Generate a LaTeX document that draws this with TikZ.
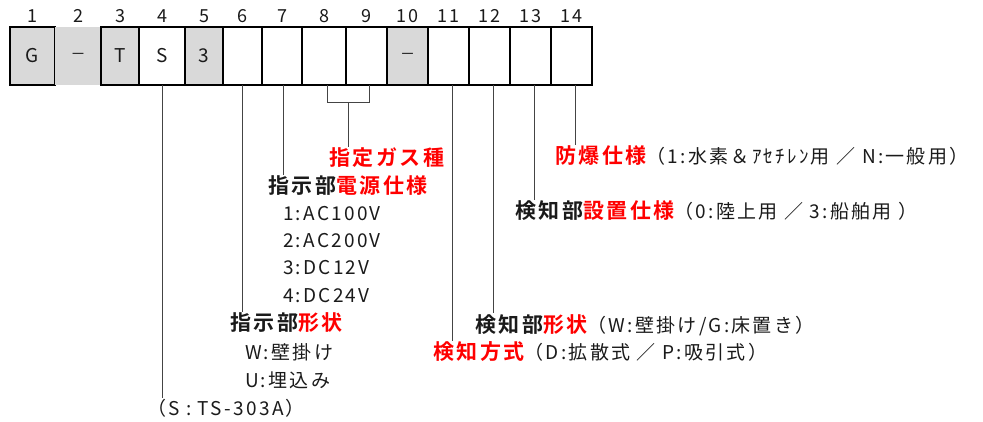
\documentclass[tikz,border=0pt]{standalone}
\usepackage{fontspec}
\setmainfont[LetterSpace=12,BoldFont={Noto Sans CJK JP Bold}]{Noto Sans CJK JP}
\usetikzlibrary{calc}
\definecolor{gbox}{HTML}{D9D9D9}
\definecolor{ink}{HTML}{1A1A1A}
\definecolor{lnk}{HTML}{444444}
\begin{document}
\begin{tikzpicture}[x=1pt,y=-1pt,
  cell/.style={draw=black,line width=2.6pt,inner sep=0pt,outer sep=0pt,minimum height=58pt,
    font=\fontsize{19}{19}\selectfont,text=ink},
  gray/.style={fill=gbox},
  num/.style={inner sep=0pt,font=\fontsize{18}{18}\selectfont,text=ink},
  lbl/.style={anchor=west,inner sep=1pt,outer sep=0pt,text=ink,font=\fontsize{19}{19}\selectfont},
  hd/.style={font=\bfseries\fontsize{21}{21}\selectfont},
  conn/.style={draw=lnk,line width=1pt}]
\useasboundingbox (0,0) rectangle (983,421);
% boxes
\node[cell,gray,minimum width=45pt] (b1) at (32.5,56) {G};
\fill[gbox] (55,27) rectangle (101,85);
\node[inner sep=0pt,font=\fontsize{15}{15}\selectfont,text=ink] (b2) at (78,56) {－};
\node[cell,gray,minimum width=38pt] (b3) at (120,56) {T};
\node[cell,minimum width=46pt] (b4) at (162,56) {S};
\node[cell,gray,minimum width=38pt] (b5) at (204,56) {3};
\node[cell,minimum width=39pt] (b6) at (242.5,56) {};
\node[cell,minimum width=40pt] (b7) at (282,56) {};
\node[cell,minimum width=44pt] (b8) at (324,56) {};
\node[cell,minimum width=41pt] (b9) at (366.5,56) {};
\node[cell,gray,minimum width=41pt,font=\fontsize{15}{15}\selectfont] (b10) at (407.5,56) {－};
\node[cell,minimum width=41pt] (b11) at (448.5,56) {};
\node[cell,minimum width=41pt] (b12) at (489.5,56) {};
\node[cell,minimum width=41pt] (b13) at (530.5,56) {};
\node[cell,minimum width=41pt] (b14) at (571.5,56) {};
% numbers
\foreach \i/\x in {1/32.5,2/78,3/120,4/162,5/204,6/242.5,7/282,8/324,9/366.5,10/407.5,11/448.5,12/489.5,13/530.5,14/571.5}
  \node[num] (n\i) at (\x,16) {\i};
% texts
\node[lbl,hd,text=red] (gas) at (328,158) {指定ガス種};
\node[lbl,hd] (pow) at (267,186) {指示部\textcolor{red}{電源仕様}};
\node[lbl] (p1) at (282,214) {1:AC100V};
\node[lbl] (p2) at (282,241) {2:AC200V};
\node[lbl] (p3) at (282,268) {3:DC12V};
\node[lbl] (p4) at (282,296) {4:DC24V};
\node[lbl,hd] (shp) at (229,323) {指示部\textcolor{red}{形状}};
\node[lbl] (sw) at (244,352) {W:壁掛け};
\node[lbl] (su) at (244,380) {U:埋込み};
\node[lbl] (ts) at (146,408) {（S : TS-303A）};
\node[lbl] (dsh) at (474,325) {{\bfseries\fontsize{21}{21}\selectfont 検知部\textcolor{red}{形状}}（W:壁掛け/G:床置き）};
\node[lbl] (met) at (432,352) {{\bfseries\fontsize{21}{21}\selectfont\color{red}検知方式}（D:拡散式 ／ P:吸引式）};
\node[lbl] (exp) at (554,156) {{\bfseries\fontsize{21}{21}\selectfont\color{red}防爆仕様}（1:水素＆ｱｾﾁﾚﾝ用 ／ N:一般用）};
\node[lbl] (ins) at (514,211) {{\bfseries\fontsize{21}{21}\selectfont 検知部\textcolor{red}{設置仕様}}（0:陸上用 ／ 3:船舶用 ）};
% connectors
\draw[conn] (b4.south) -- (b4.south |- ts.north);
\draw[conn] (b6.south) -- (b6.south |- shp.north);
\draw[conn] ([xshift=1.5pt]b7.south) -- ([xshift=1.5pt]b7.south |- pow.north);
\coordinate (br) at ($([xshift=3pt]b8.south)!0.5!([xshift=3pt]b9.south)+(0,17)$);
\draw[conn] ([xshift=3pt]b8.south) -- ++(0,17) -| ([xshift=3pt]b9.south);
\draw[conn] (br) -- (br |- gas.north);
\draw[conn] ([xshift=3.5pt]b11.south) -- ([xshift=3.5pt]b11.south |- met.north);
\draw[conn] ([xshift=3.5pt]b12.south) -- ([xshift=3.5pt]b12.south |- dsh.north);
\draw[conn] ([xshift=3.5pt]b13.south) -- ([xshift=3.5pt]b13.south |- ins.north);
\draw[conn] ([xshift=3.5pt]b14.south) -- ([xshift=3.5pt]b14.south |- exp.north);
\end{tikzpicture}
\end{document}
